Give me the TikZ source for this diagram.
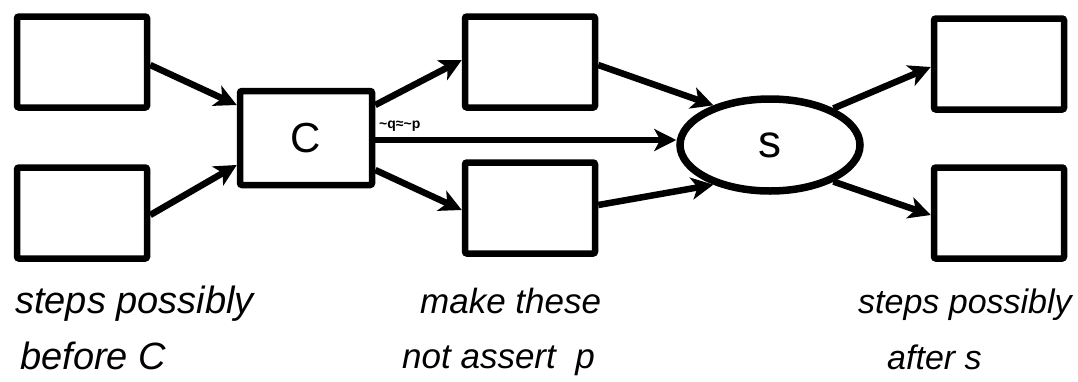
\documentclass[tikz,border=0pt]{standalone}
\usepackage{fontspec}
\setmainfont{Liberation Sans}
\usetikzlibrary{arrows.meta,shapes.geometric}
\begin{document}
\begin{tikzpicture}[x=1pt,y=-1pt,
  stepbox/.style={draw,line width=6.5pt,rounded corners=2pt,minimum width=130pt,minimum height=91pt,inner sep=0pt},
  link/.style={line width=6.5pt,-{Stealth[length=22pt,width=22pt,inset=6pt]}},
  hand/.style={font=\fontsize{38}{38}\selectfont\itshape,anchor=base west,inner sep=0pt},
  handm/.style={hand,font=\fontsize{35}{35}\selectfont\itshape},
  handr/.style={hand,font=\fontsize{34}{34}\selectfont\itshape}]
\useasboundingbox (0,0) rectangle (1078,381);
\node[stepbox] (a1) at (82,62) {};
\node[stepbox] (a2) at (82,213) {};
\node[stepbox,minimum width=132pt,minimum height=94pt,font=\fontsize{42}{42}\selectfont] (c) at (306,138) {C};
\node[stepbox] (b1) at (530,62) {};
\node[stepbox] (b2) at (530,208) {};
\node[draw,ellipse,line width=7.5pt,minimum width=180pt,minimum height=92pt,inner sep=0pt,font=\fontsize{46}{46}\selectfont] (s) at (770,145) {s};
\node[stepbox] (d1) at (999,64) {};
\node[stepbox] (d2) at (999,213) {};
\draw[link] ([yshift=-3pt]a1.east) -- ([yshift=33pt]c.west);
\draw[link] ([yshift=-2pt]a2.east) -- ([yshift=-27pt]c.west);
\draw[link] ([yshift=33pt]c.east) -- ([yshift=2pt]b1.west);
\draw[link] ([yshift=-2pt]c.east) -- ([yshift=-2pt]c.east -| s.west);
\draw[link] ([yshift=-32pt]c.east) -- ([yshift=-2pt]b2.west);
\draw[link] ([yshift=-3pt]b1.east) -- (s.145);
\draw[link] ([yshift=3pt]b2.east) -- (s.215);
\draw[link] (s.30) -- ([yshift=-3pt]d1.west);
\draw[link] (s.330) -- ([yshift=-2pt]d2.west);
\node[font=\fontsize{14}{14}\selectfont\bfseries,anchor=base west,inner sep=0pt] (lab) at (379,128) {\textasciitilde q≈\textasciitilde p};
\node[hand] (t1) at (15,313) {steps possibly};
\node[hand] (t2) at (20,369) {before C};
\node[handm] (t3) at (420,313) {make these};
\node[handm] (t4) at (402,368) {not assert\ \ p};
\node[handr] (t5) at (858,313) {steps possibly};
\node[handr] (t6) at (887,369) {after s};
\end{tikzpicture}
\end{document}
